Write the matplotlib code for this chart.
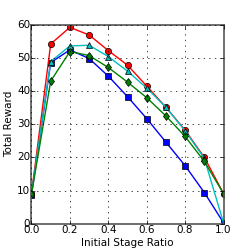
import matplotlib
matplotlib.use('Agg')
import matplotlib.pyplot as plt
import numpy as np

plt.style.use('classic')

ratio = [0.0, 0.1, 0.2, 0.3, 0.4, 0.5, 0.6, 0.7, 0.8, 0.9, 1.0]
blue = [8.8, 48.6, 52.4, 49.8, 44.5, 38.3, 31.7, 24.6, 17.5, 9.4, 0.3]
red = [9.1, 54.2, 59.2, 56.9, 52.2, 47.8, 41.5, 35.1, 28.2, 20.0, 9.1]
cyan = [9.0, 48.9, 53.6, 53.8, 50.4, 46.0, 40.9, 35.1, 28.0, 19.7, 0.3]
green = [9.0, 43.0, 51.9, 50.7, 47.1, 42.7, 38.0, 32.5, 26.3, 18.8, 9.1]
err = [0.4, 0.6, 0.6, 0.6, 0.7, 0.7, 0.6, 0.6, 0.7, 0.7, 0.4]

fig = plt.figure(figsize=(2.49, 2.49), dpi=100, facecolor='white')
ax = fig.add_axes([0.1265, 0.1016, 0.7711, 0.7992])

ax.errorbar(ratio, blue, yerr=err, color='b', marker='s', markersize=4.5,
            ecolor='k', elinewidth=0.5, capsize=0, linewidth=1)
ax.errorbar(ratio, red, yerr=err, color='r', marker='o', markersize=4.5,
            ecolor='k', elinewidth=0.5, capsize=0, linewidth=1)
ax.errorbar(ratio, cyan, yerr=err, color='c', marker='^', markersize=4.5,
            ecolor='k', elinewidth=0.5, capsize=0, linewidth=1)
ax.errorbar(ratio, green, yerr=err, color='g', marker='d', markersize=4.5,
            ecolor='k', elinewidth=0.5, capsize=0, linewidth=1)

ax.set_xlim(0, 1)
ax.set_ylim(0, 60)
ax.set_xticks(np.arange(0, 1.01, 0.2))
ax.set_yticks(np.arange(0, 61, 10))
ax.grid(True, linestyle=':', color='k', linewidth=0.5)
ax.tick_params(labelsize=7.5, length=3, pad=1)
for s in ax.spines.values():
    s.set_color('#555555')
    s.set_linewidth(1.2)
ax.set_xlabel('Initial Stage Ratio', fontsize=7.5, labelpad=2)
ax.set_ylabel('Total Reward', fontsize=7.5, labelpad=2)

fig.savefig('out.png', dpi=100, facecolor='white')
